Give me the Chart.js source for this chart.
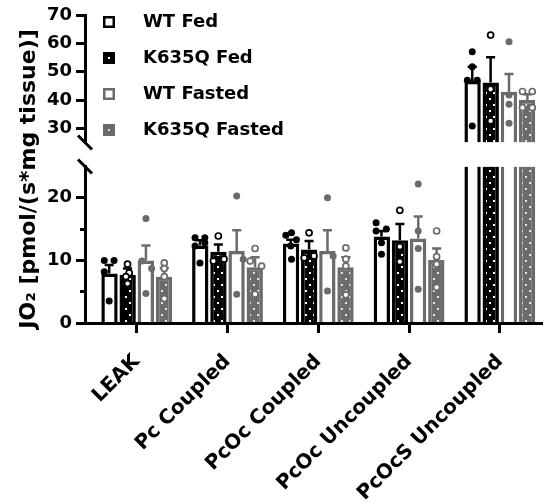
<!DOCTYPE html>
<html>
<head>
<meta charset="utf-8">
<script src="https://cdn.jsdelivr.net/npm/chart.js@4.4.1/dist/chart.umd.min.js"></script>
<style>
  html, body { margin: 0; padding: 0; background: #fff; }
  #wrap { width: 548px; height: 504px; }
</style>
</head>
<body>
<div id="wrap"><canvas id="chart" width="548" height="504"></canvas></div>
<script>
// === Data ===
const categories = ['LEAK', 'Pc Coupled', 'PcOc Coupled', 'PcOc Uncoupled', 'PcOcS Uncoupled'];
const seriesNames = ['WT Fed', 'K635Q Fed', 'WT Fasted', 'K635Q Fasted'];
const lowTicks = [0, 5, 10, 15, 20];
const highTicks = [30, 40, 50, 60, 70];
const yTitle = 'JO\u2082 [pmol/(s*mg tissue)]';

// bar heights (mean) and error bar length (up only)
const wtFedMean = [7.9, 12.4, 12.7, 13.8, 46.7];
const wtFedErr = [1.35, 0.8, 0.6, 0.9, 5.0];
const koFedMean = [7.7, 11.4, 11.75, 13.2, 46.2];
const koFedErr = [1.0, 1.15, 1.35, 2.6, 8.9];
const wtFastMean = [10.0, 11.5, 11.5, 13.5, 42.9];
const wtFastErr = [2.4, 3.3, 3.3, 3.5, 6.3];
const koFastMean = [7.4, 8.9, 8.9, 10.05, 40.0];
const koFastErr = [1.4, 1.6, 1.6, 1.85, 2.0];

// individual animals, and their sideways scatter (in bar widths)
const wtFedPts = [[10.0, 10.0, 8.2, 3.5], [13.6, 13.6, 12.3, 12.8, 9.6], [14.0, 14.4, 13.3, 12.3, 10.2], [16.0, 14.7, 15.0, 12.8, 11.0], [57.0, 51.7, 47.0, 47.0, 30.8]];
const wtFedJit = [[-0.3, 0.3, -0.3, 0], [-0.3, 0.3, -0.3, 0.3, 0], [-0.3, 0.05, 0.35, 0, 0.05], [-0.33, -0.33, 0.3, 0, 0], [0, 0, -0.3, 0.3, 0]];
const koFedPts = [[9.4, 8.0, 7.4, 6.3], [13.9, 9.9, 10.2], [14.4, 10.4, 10.7], [18.0, 12.2, 9.8], [62.9, 43.8, 32.6]];
const koFedJit = [[0, 0.1, -0.1, 0], [0, -0.3, 0.35], [0, -0.3, 0.3], [0, 0, 0], [0, 0, 0]];
const wtFastPts = [[16.7, 9.9, 8.7, 4.7], [20.3, 10.2, 4.6], [20.0, 10.7, 5.1], [22.2, 14.7, 11.9, 5.4], [60.6, 41.8, 38.5, 31.8]];
const wtFastJit = [[0, -0.25, 0.35, 0], [0, 0.4, 0], [0, 0.35, 0], [0, 0, 0, 0], [0, 0, 0, 0]];
const koFastPts = [[9.6, 8.7, 7.4, 3.9], [11.9, 9.9, 9.1, 4.6], [12.0, 10.2, 9.1, 4.5], [14.7, 10.6, 9.4, 5.7], [43.0, 43.0, 37.3, 37.3]];
const koFastJit = [[0, 0, 0, 0], [0, -0.3, 0.4, 0], [0, 0, 0, 0], [0, 0, 0, 0], [-0.3, 0.3, -0.3, 0.3]];

// === Layout / style ===
const BRK = 25;              // axis break value
const CAT_PCT = 0.81, BAR_PCT = 0.887;
const slot = CAT_PCT / 4, barW = slot * BAR_PCT, capHalf = 0.05;
const GRAY = '#6b6b6b';
const FONT = 'DejaVu Sans';

Chart.defaults.font.family = FONT;
const canvas = document.getElementById('chart');
const mainCtx = canvas.getContext('2d');

function dotPattern(bg, dot) {
  const c = document.createElement('canvas');
  c.width = 8; c.height = 12;
  const x = c.getContext('2d');
  x.fillStyle = bg; x.fillRect(0, 0, 8, 12);
  x.fillStyle = dot;
  x.fillRect(1, 2, 2, 2);
  x.fillRect(5, 8, 2, 2);
  return mainCtx.createPattern(c, 'repeat');
}

function legendIcon(fill, line, dot) {
  const c = document.createElement('canvas');
  c.width = 31; c.height = 14;
  const x = c.getContext('2d');
  x.fillStyle = fill; x.fillRect(0, 1, 12, 12);
  x.strokeStyle = line; x.lineWidth = 2.5; x.strokeRect(1.25, 2.25, 9.5, 9.5);
  if (dot) { x.fillStyle = dot; x.fillRect(5, 6, 2, 2); }
  return c;
}

const seriesStyle = [
  { fill: '#fff', line: '#000', ptFill: '#000', ptLine: '#000', open: false, icon: legendIcon('#fff', '#000') },
  { fill: dotPattern('#000', '#fff'), line: '#000', ptFill: '#fff', ptLine: '#000', open: true, icon: legendIcon('#000', '#000', '#fff') },
  { fill: '#fff', line: GRAY, ptFill: GRAY, ptLine: GRAY, open: false, icon: legendIcon('#fff', GRAY) },
  { fill: dotPattern(GRAY, '#e4e4e4'), line: GRAY, ptFill: '#fff', ptLine: GRAY, open: true, icon: legendIcon(GRAY, GRAY, '#e4e4e4') }
];

const series = [
  { mean: wtFedMean, err: wtFedErr, pts: wtFedPts, jit: wtFedJit },
  { mean: koFedMean, err: koFedErr, pts: koFedPts, jit: koFedJit },
  { mean: wtFastMean, err: wtFastErr, pts: wtFastPts, jit: wtFastJit },
  { mean: koFastMean, err: koFastErr, pts: koFastPts, jit: koFastJit }
];

// === Datasets ===
const barDatasets = [], errDatasets = [], ptDatasets = [];
series.forEach((s, g) => {
  const st = seriesStyle[g];
  const off = (g - 1.5) * slot;
  const base = {
    type: 'bar', label: seriesNames[g], stack: 's' + g, order: 3,
    backgroundColor: st.fill, borderColor: st.line,
    borderWidth: ctx => ({ left: 3.5, right: 3.5, bottom: 0, top: ctx.raw && ctx.raw.y >= BRK ? 0 : 3.5 })
  };
  // lower panel: bars capped at the break
  barDatasets.push({ ...base, yAxisID: 'yLow', data: s.mean.map((m, i) => ({ x: i, y: Math.min(m, BRK) })) });
  // upper panel: the part above the break
  barDatasets.push({ ...base, yAxisID: 'yHigh', data: s.mean.map((m, i) => (m > BRK ? { x: i, y: [BRK, m] } : null)).filter(Boolean) });

  ['yLow', 'yHigh'].forEach(ax => {
    const errData = [];
    s.mean.forEach((m, i) => {
      if ((m >= BRK) !== (ax === 'yHigh')) return;
      const x = i + off, top = m + s.err[i];
      errData.push({ x, y: m }, { x, y: top }, { x, y: null },
        { x: x - capHalf, y: top }, { x: x + capHalf, y: top }, { x, y: null });
    });
    if (errData.length) {
      errDatasets.push({
        type: 'line', yAxisID: ax, data: errData, order: 2,
        borderColor: st.line, borderWidth: 2.5, pointRadius: 0, spanGaps: false, tension: 0, fill: false
      });
    }
    const ptData = [];
    s.pts.forEach((arr, i) => arr.forEach((v, k) => {
      if ((v >= BRK) === (ax === 'yHigh')) ptData.push({ x: i + off + s.jit[i][k] * barW, y: v });
    }));
    if (ptData.length) {
      ptDatasets.push({
        type: 'scatter', yAxisID: ax, data: ptData, order: 1,
        pointRadius: st.open ? 3 : 3.5, pointBorderWidth: st.open ? 1.7 : 0,
        pointBackgroundColor: st.ptFill, pointBorderColor: st.ptLine
      });
    }
  });
});

// === Extras: axis break marks, y title, legend placement ===
const extras = {
  id: 'extras',
  afterLayout(chart) {
    if (chart.legend) { chart.legend.top -= 5; chart.legend.bottom -= 5; }
  },
  afterDraw(chart) {
    const { ctx, scales: { yLow, yHigh } } = chart;
    const ax = yLow.right;
    ctx.save();
    ctx.strokeStyle = '#000';
    ctx.lineWidth = 3;
    [yHigh.bottom, yLow.top].forEach(y => {
      ctx.beginPath();
      ctx.moveTo(ax - 7, y - 7);
      ctx.lineTo(ax + 7, y + 7);
      ctx.stroke();
    });
    ctx.translate(35, 179);
    ctx.rotate(-Math.PI / 2);
    ctx.font = 'bold 22px "' + FONT + '"';
    ctx.fillStyle = '#000';
    ctx.textAlign = 'center';
    ctx.textBaseline = 'alphabetic';
    ctx.fillText(yTitle, 0, 0);
    ctx.restore();
  }
};

const tickFont = { family: FONT, weight: 'bold', size: 18 };
const yTicks = { color: '#000', font: tickFont, padding: 4 };
const yGrid = { drawOnChartArea: false, tickLength: 9, tickWidth: 3, tickColor: '#000' };
const yBorder = { color: '#000', width: 3 };

new Chart(canvas, {
  type: 'bar',
  data: { datasets: [...barDatasets, ...errDatasets, ...ptDatasets] },
  options: {
    responsive: false,
    devicePixelRatio: 1,
    animation: false,
    events: [],
    layout: { padding: { top: 15, left: 0, right: 0, bottom: 0 } },
    plugins: {
      tooltip: { enabled: false },
      legend: {
        position: 'chartArea',
        align: 'start',
        labels: {
          usePointStyle: true,
          pointStyleWidth: 31,
          padding: 18,
          color: '#000',
          font: { family: FONT, weight: 'bold', size: 18 },
          generateLabels: () => seriesNames.map((t, k) => ({
            text: t, pointStyle: seriesStyle[k].icon, datasetIndex: k,
            hidden: false, lineWidth: 0, fontColor: '#000'
          }))
        }
      }
    },
    scales: {
      x: {
        type: 'linear', axis: 'x', position: 'bottom',
        min: -0.57, max: 4.468, offset: false,
        afterBuildTicks: s => { s.ticks = categories.map((c, i) => ({ value: i })); },
        afterFit: s => { s.height = 181; },
        ticks: {
          color: '#000', font: { family: FONT, weight: 'bold', size: 20 },
          autoSkip: false, minRotation: 45, maxRotation: 45, padding: 17,
          callback: v => categories[v] ?? ''
        },
        grid: { offset: false, drawOnChartArea: false, tickLength: 10, tickWidth: 3, tickColor: '#000' },
        border: { color: '#000', width: 3, z: 1 }
      },
      yLow: {
        type: 'linear', axis: 'y', position: 'left', stack: 'left', stackWeight: 156.5,
        stacked: false, min: 0, max: BRK,
        afterBuildTicks: s => { s.ticks = lowTicks.map(v => ({ value: v })); },
        afterFit: s => { s.width = 85; },
        ticks: { ...yTicks, callback: v => (v % 10 === 0 ? v : '') },
        grid: { ...yGrid, tickBorderDash: c => (c.tick && c.tick.value % 10 ? [0, 4, 20, 0] : []) },
        border: yBorder
      },
      yGap: {
        type: 'linear', axis: 'y', position: 'left', stack: 'left', stackWeight: 24,
        afterFit: s => { s.width = 85; },
        ticks: { display: false },
        grid: { display: false },
        border: { display: false }
      },
      yHigh: {
        type: 'linear', axis: 'y', position: 'left', stack: 'left', stackWeight: 127.5,
        stacked: false, min: BRK, max: 70,
        afterBuildTicks: s => { s.ticks = highTicks.map(v => ({ value: v })); },
        afterFit: s => { s.width = 85; },
        ticks: yTicks,
        grid: yGrid,
        border: yBorder
      }
    }
  },
  plugins: [extras]
});
</script>
</body>
</html>
